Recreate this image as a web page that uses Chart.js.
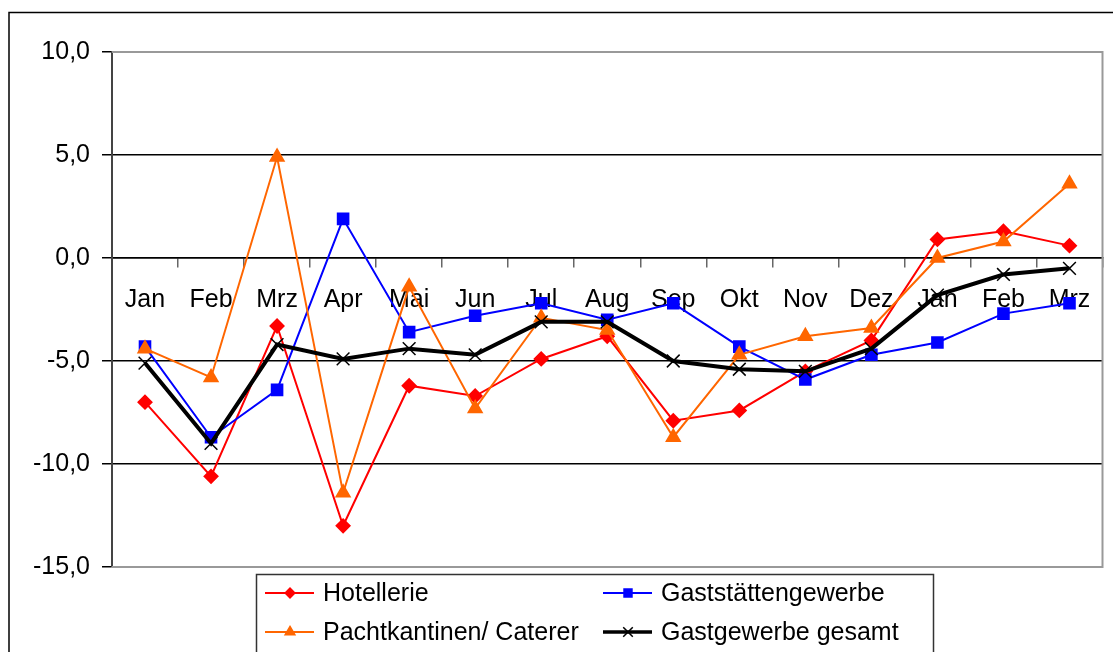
<!DOCTYPE html>
<html>
<head>
<meta charset="utf-8">
<script src="https://cdn.jsdelivr.net/npm/chart.js@4/dist/chart.umd.min.js"></script>
<style>
  html, body { margin: 0; padding: 0; background: #fff; }
  #wrap { width: 1113px; height: 652px; }
</style>
</head>
<body>
<div id="wrap"><canvas id="myChart" width="1113" height="652"></canvas></div>
<script>
// month labels, two years running (Jan of year one to Mrz of year two)
var months = ['Jan', 'Feb', 'Mrz', 'Apr', 'Mai', 'Jun', 'Jul', 'Aug', 'Sep', 'Okt', 'Nov', 'Dez', 'Jan', 'Feb', 'Mrz'];

// change in % per branch
var hotellerie = [-7.0, -10.6, -3.3, -13.0, -6.2, -6.7, -4.9, -3.8, -7.9, -7.4, -5.5, -4.0, 0.9, 1.3, 0.6];
var gaststaetten = [-4.3, -8.7, -6.4, 1.9, -3.6, -2.8, -2.2, -3.0, -2.2, -4.3, -5.9, -4.7, -4.1, -2.7, -2.2];
var caterer = [-4.4, -5.8, 4.9, -11.4, -1.4, -7.3, -2.9, -3.5, -8.7, -4.7, -3.8, -3.4, 0.0, 0.8, 3.6];
var gesamt = [-5.1, -9.0, -4.2, -4.9, -4.4, -4.7, -3.1, -3.1, -5.0, -5.4, -5.5, -4.4, -1.8, -0.8, -0.5];

var yTicks = [10, 5, 0, -5, -10, -15];

const FONT = 'Liberation Sans, Arial, sans-serif';

// frame round the whole picture and the plot area
const framePlugin = {
    id: 'frames',
    beforeDraw(chart) {
        const ctx = chart.ctx;
        ctx.save();
        ctx.strokeStyle = '#000';
        ctx.lineWidth = 1.5;
        ctx.strokeRect(9, 12.5, 1200, 700);
        ctx.restore();
    },
    beforeDatasetsDraw(chart) {
        const a = chart.chartArea, ctx = chart.ctx;
        ctx.save();
        ctx.strokeStyle = '#999';
        ctx.lineWidth = 2;
        ctx.beginPath();
        ctx.moveTo(a.left, a.top);
        ctx.lineTo(a.right, a.top);
        ctx.lineTo(a.right, a.bottom);
        ctx.lineTo(a.left, a.bottom);
        ctx.stroke();
        ctx.restore();
    }
};

// legend in two columns like the original
const legendPlugin = {
    id: 'boxLegend',
    afterDraw(chart) {
        const ctx = chart.ctx;
        ctx.save();
        ctx.fillStyle = '#fff';
        ctx.fillRect(256, 574, 677, 100);
        ctx.strokeStyle = '#333';
        ctx.lineWidth = 1.5;
        ctx.strokeRect(256.5, 574.5, 677, 100);
        var colX = [265, 603], rowY = [593, 632];
        chart.data.datasets.forEach(function (ds, i) {
            var x = colX[i % 2], y = rowY[Math.floor(i / 2)];
            ctx.strokeStyle = ds.borderColor;
            ctx.lineWidth = ds.legendLine;
            ctx.beginPath();
            ctx.moveTo(x, y);
            ctx.lineTo(x + 49, y);
            ctx.stroke();
            ctx.fillStyle = ds.pointBackgroundColor;
            ctx.strokeStyle = ds.pointBorderColor;
            ctx.lineWidth = 1.5;
            Chart.helpers.drawPoint(ctx, {pointStyle: ds.pointStyle, radius: ds.pointRadius * 0.75, rotation: 0, borderWidth: 1.5}, x + 25, y);
            ctx.fillStyle = '#000';
            ctx.font = '25px ' + FONT;
            ctx.textBaseline = 'middle';
            ctx.fillText(ds.label, x + 58, y + 1);
        });
        ctx.restore();
    }
};

const GRAPH = document.getElementById('myChart');
const lineGraph = new Chart(GRAPH, {
    type: 'line',
    data: {
        labels: months,
        datasets: [{
            label: 'Hotellerie',
            data: hotellerie,
            borderColor: '#ff0000',
            pointBackgroundColor: '#ff0000',
            pointBorderColor: '#ff0000',
            borderWidth: 2,
            legendLine: 2,
            pointStyle: 'rectRot',
            pointRadius: 6.5,
            order: 3
        }, {
            label: 'Gaststättengewerbe',
            data: gaststaetten,
            borderColor: '#0000ff',
            pointBackgroundColor: '#0000ff',
            pointBorderColor: '#0000ff',
            borderWidth: 2,
            legendLine: 2,
            pointStyle: 'rect',
            pointRadius: 7.5,
            order: 2
        }, {
            label: 'Pachtkantinen/ Caterer',
            data: caterer,
            borderColor: '#ff6600',
            pointBackgroundColor: '#ff6600',
            pointBorderColor: '#ff6600',
            borderWidth: 2,
            legendLine: 2,
            pointStyle: 'triangle',
            pointRadius: 7.5,
            order: 1
        }, {
            label: 'Gastgewerbe gesamt',
            data: gesamt,
            borderColor: '#000000',
            pointBackgroundColor: '#000000',
            pointBorderColor: '#000000',
            borderWidth: 4,
            legendLine: 3.5,
            pointStyle: 'crossRot',
            pointRadius: 9,
            pointBorderWidth: 1.5,
            order: 0
        }]
    },
    options: {
        responsive: false,
        animation: false,
        devicePixelRatio: 1,
        tension: 0,
        layout: { padding: { left: 21, top: 52, right: 3, bottom: 85 } },
        plugins: {
            legend: { display: false },
            tooltip: { enabled: false }
        },
        scales: {
            x: {
                type: 'category',
                position: { y: 0 },
                offset: true,
                grid: {
                    offset: true,
                    drawOnChartArea: false,
                    drawTicks: true,
                    tickLength: 9,
                    color: '#666',
                    lineWidth: 1.5
                },
                border: { display: true, color: '#000', width: 1.5 },
                ticks: {
                    font: { family: FONT, size: 25 },
                    color: '#000',
                    padding: 18,
                    maxRotation: 0,
                    autoSkip: false
                }
            },
            y: {
                min: -15,
                max: 10,
                afterBuildTicks: function (scale) {
                    scale.ticks = yTicks.map(function (v) { return { value: v }; });
                },
                grid: {
                    color: function (c) {
                        return (c.tick && (c.tick.value === 10 || c.tick.value === -15)) ? '#999' : '#000';
                    },
                    tickColor: '#000',
                    lineWidth: 1.5,
                    tickLength: 10
                },
                border: { display: true, color: '#444', width: 2 },
                ticks: {
                    font: { family: FONT, size: 25 },
                    color: '#000',
                    padding: 12,
                    callback: function (v) { return v.toFixed(1).replace('.', ','); }
                }
            }
        }
    },
    plugins: [framePlugin, legendPlugin]
});
</script>
</body>
</html>
